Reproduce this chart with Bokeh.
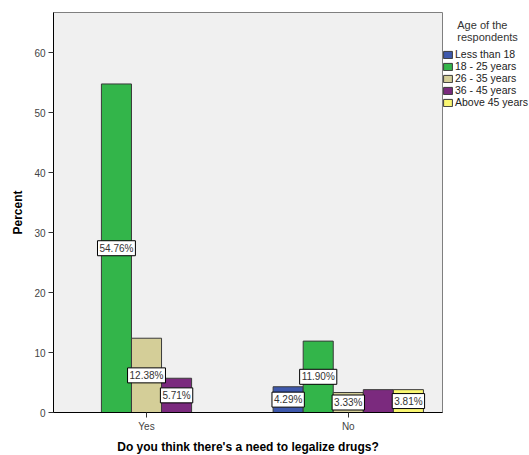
from bokeh.plotting import figure
from bokeh.models import (ColumnDataSource, Legend, LegendItem,
                          FixedTicker, Range1d)
from bokeh.core.properties import value
from bokeh.embed import file_html
from bokeh.resources import INLINE

# Survey answers and age bands
answers = ["Yes", "No"]
age_groups = ["Less than 18", "18 - 25 years", "26 - 35 years",
              "36 - 45 years", "Above 45 years"]
colors = ["#3E58AC", "#33B54A", "#D4CE98", "#7B2A7E", "#FAF772"]

# Percent of all respondents, per answer and age band (None = no bar)
yes_pct = [None, 54.76, 12.38, 5.71, None]
no_pct = [4.29, 11.90, 3.33, 3.81, 3.81]
# which bars carry a value label
yes_labeled = [False, True, True, True, False]
no_labeled = [True, True, True, False, True]

y_ticks = [0, 10, 20, 30, 40, 50, 60]
legend_title = ["Age of the", "respondents"]

bar_w = 0.149
FRAME_W, FRAME_H = 389, 400

p = figure(width=529, height=455, frame_width=FRAME_W, frame_height=FRAME_H,
           output_backend="svg", toolbar_location=None,
           x_range=Range1d(-0.461, 1.467), y_range=Range1d(0, 66.67),
           min_border_left=53, min_border_top=12, min_border_bottom=43,
           min_border_right=0)

p.background_fill_color = "#F0F0F0"
p.border_fill_color = "white"
p.outline_line_color = "#7F7F7F"
p.outline_line_width = 1
p.xgrid.visible = False
p.ygrid.visible = False

items = []
lab_x, lab_y, lab_t = [], [], []
for i, (name, col) in enumerate(zip(age_groups, colors)):
    xs, tops = [], []
    for gi, (vals, flags) in enumerate([(yes_pct, yes_labeled), (no_pct, no_labeled)]):
        v = vals[i]
        if v is None:
            continue
        x = gi + (i - 2) * bar_w
        xs.append(x)
        tops.append(v)
        if flags[i]:
            lab_x.append(x)
            lab_y.append(v / 2)
            lab_t.append(f"{v:.2f}%")
    src = ColumnDataSource(dict(x=xs, top=tops))
    r = p.vbar(x="x", top="top", width=bar_w, source=src, fill_color=col,
               line_color="#3A3A3A", line_width=1)
    items.append(LegendItem(label=name, renderers=[r]))

# value labels in white boxes at half the bar height
p.text(x="x", y="y", text="t",
       source=ColumnDataSource(dict(x=lab_x, y=lab_y, t=lab_t)),
       text_align="center", text_baseline="middle",
       text_font=value("Liberation Sans"), text_font_size="10px",
       text_color="#333333", background_fill_color="white",
       border_line_color="black", border_line_width=1, padding=2)

# axes
p.xaxis.ticker = FixedTicker(ticks=[0, 1])
p.xaxis.major_label_overrides = {0: answers[0], 1: answers[1]}
p.yaxis.ticker = FixedTicker(ticks=y_ticks)
for ax in (p.xaxis[0], p.yaxis[0]):
    ax.axis_line_color = "black"
    ax.axis_line_width = 1
    ax.major_tick_in = 0
    ax.major_tick_out = 5
    ax.major_tick_line_color = "#333333"
    ax.minor_tick_line_color = None
    ax.major_label_text_font = "Liberation Sans"
    ax.major_label_text_font_size = "10px"
    ax.major_label_text_color = "#444444"
    ax.axis_label_text_font = "Liberation Sans"
    ax.axis_label_text_font_size = "12px"
    ax.axis_label_text_font_style = "bold"
    ax.axis_label_text_color = "black"
p.yaxis.axis_label = "Percent"
p.xaxis.axis_label = "Do you think there's a need to legalize drugs?"
p.yaxis.major_label_standoff = 3
p.xaxis.major_label_standoff = 3
p.xaxis.axis_label_standoff = 5
p.yaxis.axis_label_standoff = 6

# legend title lines, indented with no-break spaces so they sit centred
title_text = "\u00a0" * 5 + legend_title[0] + "\n" + "\u00a0" * 5 + legend_title[1]

legend = Legend(items=items, title=title_text,
                title_text_font="Liberation Sans", title_text_font_size="11px",
                title_text_font_style="normal", title_text_color="#333333",
                title_standoff=5,
                label_text_font="Liberation Sans", label_text_font_size="10.5px",
                label_text_color="#222222", glyph_width=11, glyph_height=9,
                label_height=11, label_standoff=2, spacing=0, padding=2,
                margin=0, border_line_color=None,
                background_fill_alpha=0, location=(0, 304))
p.add_layout(legend, "right")

open("out.html", "w").write(file_html(p, INLINE))
